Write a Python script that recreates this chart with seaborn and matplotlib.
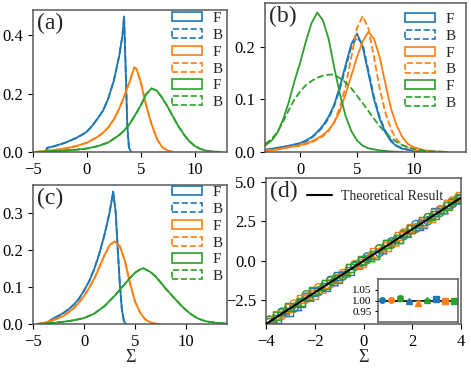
import numpy as np
import pandas as pd
import matplotlib
matplotlib.use("Agg")
import matplotlib.pyplot as plt
from matplotlib.patches import Patch
from matplotlib.lines import Line2D
import seaborn as sns

# ---- panel (a): distributions, (x, density)
a_blue_x = [-3.8, -3.7, -3.0, -2.5, -2.0, -1.5, -1.0, -0.5, 0.0, 0.5, 1.0, 1.5, 2.0, 2.5, 3.0, 3.3, 3.45, 3.6, 3.75, 3.9, 4.1]
a_blue_y = [0.0, 0.014, 0.02, 0.026, 0.032, 0.04, 0.048, 0.058, 0.07, 0.09, 0.115, 0.142, 0.185, 0.245, 0.33, 0.40, 0.465, 0.28, 0.09, 0.015, 0.0]
a_orange_x = [-4.9, -4.0, -3.0, -2.0, -1.0, 0.0, 1.0, 1.5, 2.0, 2.5, 3.0, 3.5, 4.0, 4.4, 4.6, 5.0, 5.5, 6.0, 6.5, 7.0, 7.5, 8.0]
a_orange_y = [0.0, 0.003, 0.007, 0.012, 0.02, 0.032, 0.052, 0.066, 0.085, 0.112, 0.148, 0.195, 0.245, 0.29, 0.285, 0.24, 0.16, 0.095, 0.045, 0.016, 0.005, 0.0]
a_green_x = [-4.8, -3.0, -2.0, -1.0, 0.0, 1.0, 2.0, 3.0, 3.5, 4.0, 4.5, 5.0, 5.5, 6.0, 6.5, 7.0, 7.5, 8.0, 8.5, 9.0, 9.5, 10.0, 10.5, 11.0, 11.5, 12.0, 12.5]
a_green_y = [0.0, 0.003, 0.005, 0.008, 0.012, 0.02, 0.033, 0.058, 0.075, 0.098, 0.128, 0.16, 0.198, 0.218, 0.21, 0.185, 0.155, 0.12, 0.088, 0.06, 0.037, 0.021, 0.011, 0.005, 0.002, 0.001, 0.0]

# ---- panel (b)
b_blue_F_x = [-3.1, -2.0, -1.0, 0.0, 0.5, 1.0, 1.5, 2.0, 2.5, 3.0, 3.5, 4.0, 4.5, 5.0, 5.5, 6.0, 6.5, 7.0, 7.5, 8.0, 8.5, 9.0, 10.0, 11.0]
b_blue_F_y = [0.004, 0.008, 0.012, 0.017, 0.022, 0.028, 0.038, 0.05, 0.067, 0.09, 0.125, 0.165, 0.205, 0.225, 0.2, 0.15, 0.1, 0.063, 0.037, 0.02, 0.011, 0.006, 0.002, 0.0]
b_blue_B_x = [-3.1, -2.0, -1.0, 0.0, 0.5, 1.0, 1.5, 2.0, 2.5, 3.0, 3.5, 4.0, 4.5, 5.0, 5.5, 6.0, 6.5, 7.0, 7.5, 8.0, 8.5, 9.0, 10.0, 11.0]
b_blue_B_y = [0.004, 0.007, 0.011, 0.016, 0.02, 0.027, 0.036, 0.048, 0.064, 0.088, 0.12, 0.16, 0.2, 0.218, 0.205, 0.155, 0.105, 0.066, 0.04, 0.022, 0.012, 0.007, 0.002, 0.0]
b_orange_F_x = [-3.1, -2.0, -1.0, 0.0, 1.0, 2.0, 2.5, 3.0, 3.5, 4.0, 4.5, 5.0, 5.5, 6.0, 6.5, 7.0, 7.5, 8.0, 8.5, 9.0, 9.5, 10.0, 11.0, 12.0, 13.0]
b_orange_F_y = [0.002, 0.005, 0.009, 0.013, 0.02, 0.032, 0.042, 0.056, 0.078, 0.11, 0.145, 0.18, 0.21, 0.228, 0.215, 0.18, 0.13, 0.082, 0.05, 0.028, 0.015, 0.009, 0.003, 0.001, 0.0]
b_orange_B_x = [-3.1, -2.0, -1.0, 0.0, 1.0, 2.0, 2.5, 3.0, 3.5, 4.0, 4.5, 5.0, 5.5, 6.0, 6.5, 7.0, 7.5, 8.0, 8.5, 9.0, 10.0, 11.0, 12.0]
b_orange_B_y = [0.003, 0.005, 0.009, 0.012, 0.018, 0.03, 0.04, 0.057, 0.085, 0.125, 0.18, 0.235, 0.258, 0.235, 0.18, 0.12, 0.075, 0.043, 0.024, 0.013, 0.004, 0.001, 0.0]
b_green_F_x = [-3.1, -2.5, -2.0, -1.5, -1.0, -0.5, 0.0, 0.5, 1.0, 1.5, 2.0, 2.5, 3.0, 3.5, 4.0, 4.5, 5.0, 5.5, 6.0, 7.0, 8.0, 9.0]
b_green_F_y = [0.012, 0.022, 0.037, 0.062, 0.095, 0.135, 0.17, 0.21, 0.245, 0.265, 0.25, 0.215, 0.16, 0.11, 0.068, 0.04, 0.022, 0.012, 0.007, 0.003, 0.001, 0.0]
b_green_B_x = [-3.1, -2.5, -2.0, -1.5, -1.0, -0.5, 0.0, 0.5, 1.0, 1.5, 2.0, 2.5, 3.0, 3.5, 4.0, 4.5, 5.0, 5.5, 6.0, 6.5, 7.0, 7.5, 8.0, 8.5, 9.0, 9.5, 10.0, 11.0, 12.0, 13.0]
b_green_B_y = [0.015, 0.025, 0.038, 0.058, 0.08, 0.1, 0.115, 0.127, 0.135, 0.141, 0.145, 0.147, 0.147, 0.14, 0.132, 0.121, 0.107, 0.093, 0.078, 0.063, 0.049, 0.037, 0.027, 0.019, 0.013, 0.009, 0.006, 0.002, 0.001, 0.0]

# ---- panel (c)
c_blue_x = [-3.6, -3.4, -3.0, -2.5, -2.0, -1.5, -1.0, -0.5, 0.0, 0.5, 1.0, 1.5, 2.0, 2.5, 2.85, 3.1, 3.3, 3.5, 3.7, 3.9, 4.1]
c_blue_y = [0.0, 0.008, 0.015, 0.022, 0.03, 0.04, 0.052, 0.068, 0.09, 0.115, 0.148, 0.19, 0.24, 0.3, 0.356, 0.3, 0.2, 0.11, 0.04, 0.008, 0.0]
c_orange_x = [-4.6, -4.0, -3.0, -2.5, -2.0, -1.5, -1.0, -0.5, 0.0, 0.5, 1.0, 1.5, 2.0, 2.5, 3.0, 3.5, 4.0, 4.5, 5.0, 5.5, 6.0, 6.5, 7.0, 7.5]
c_orange_y = [0.0, 0.003, 0.01, 0.016, 0.022, 0.032, 0.043, 0.058, 0.075, 0.097, 0.122, 0.153, 0.185, 0.212, 0.222, 0.21, 0.17, 0.11, 0.06, 0.03, 0.012, 0.004, 0.001, 0.0]
c_green_x = [-4.5, -3.0, -2.0, -1.0, 0.0, 1.0, 2.0, 3.0, 4.0, 4.5, 5.0, 5.5, 5.8, 6.5, 7.0, 7.5, 8.0, 8.5, 9.0, 9.5, 10.0, 10.5, 11.0, 11.5, 12.0, 13.0, 14.0]
c_green_y = [0.0, 0.003, 0.006, 0.01, 0.016, 0.028, 0.048, 0.076, 0.108, 0.124, 0.138, 0.147, 0.15, 0.14, 0.128, 0.112, 0.095, 0.08, 0.065, 0.05, 0.037, 0.026, 0.017, 0.011, 0.007, 0.003, 0.001]

# ---- panel (d): markers along the theoretical line
x_o = [-3.85, -3.35, -2.85, -2.35, -1.85, -1.35, -0.85, -0.35, 0.15, 0.65, 1.15, 1.65, 2.15, 2.65, 3.15, 3.65]
x_t = [-3.7, -3.2, -2.7, -2.2, -1.7, -1.2, -0.7, -0.2, 0.3, 0.8, 1.3, 1.8, 2.3, 2.8, 3.3, 3.8]
x_s = [-3.55, -3.05, -2.55, -2.05, -1.55, -1.05, -0.55, -0.05, 0.45, 0.95, 1.45, 1.95, 2.45, 2.95, 3.45, 3.95]
y_blue_o = [-3.90, -3.25, -3.00, -2.30, -1.95, -1.23, -0.93, -0.35, 0.25, 0.53, 1.21, 1.60, 2.30, 2.55, 3.20, 3.63]
y_orange_o = [-3.77, -3.45, -2.73, -2.41, -1.70, -1.45, -0.80, -0.23, 0.07, 0.75, 1.10, 1.77, 2.05, 2.73, 3.25, 3.80]
y_green_o = [-3.75, -3.30, -2.95, -2.15, -1.90, -1.27, -0.97, -0.29, 0.11, 0.77, 1.05, 1.70, 2.09, 2.75, 3.07, 3.70]
y_blue_t = [-3.80, -3.15, -2.90, -2.25, -1.60, -1.32, -0.66, -0.28, 0.36, 0.70, 1.42, 1.74, 2.18, 2.88, 3.25, 3.85]
y_orange_t = [-3.64, -3.28, -2.60, -2.05, -1.80, -1.15, -0.60, -0.26, 0.42, 0.82, 1.20, 1.94, 2.36, 2.68, 3.40, 4.00]
y_green_t = [-3.75, -3.08, -2.65, -2.30, -1.62, -1.05, -0.76, -0.10, 0.20, 0.86, 1.38, 1.76, 2.42, 2.82, 3.24, 3.90]
y_blue_s = [-3.70, -3.25, -2.65, -2.00, -1.67, -0.97, -0.65, -0.01, 0.37, 1.05, 1.39, 2.00, 2.35, 3.07, 3.60, 3.90]
y_orange_s = [-3.45, -2.99, -2.40, -2.13, -1.45, -1.10, -0.43, -0.15, 0.53, 0.91, 1.55, 2.10, 2.40, 3.01, 3.57, 4.10]
y_green_s = [-3.50, -2.95, -2.63, -1.93, -1.50, -1.15, -0.47, 0.05, 0.40, 1.07, 1.37, 2.01, 2.55, 2.89, 3.50, 3.95]
theory_x = [-4, 4]
theory_y = [-4, 4]

# inset: ratios with error bars
inset_x = [1, 2, 3, 4, 5, 6, 7, 8, 9]
inset_y = [1.004, 1.002, 1.010, 0.998, 0.988, 1.001, 1.009, 1.000, 0.999]
inset_err = [0.004, 0.004, 0.010, 0.005, 0.009, 0.004, 0.007, 0.005, 0.004]
inset_markers = ['o', 'o', 'o', '^', '^', '^', 's', 's', 's']

legend_labels = ['F', 'B', 'F', 'B', 'F', 'B']

C = sns.color_palette("tab10")
blue, orange, green = C[0], C[1], C[2]

sns.set_style("ticks")
plt.rcParams['font.family'] = ['Liberation Serif', 'DejaVu Serif']
plt.rcParams['mathtext.fontset'] = 'stix'
plt.rcParams['axes.edgecolor'] = '0.35'
plt.rcParams['axes.linewidth'] = 1.1
plt.rcParams['xtick.color'] = 'k'
plt.rcParams['ytick.color'] = 'k'
plt.rcParams['xtick.labelsize'] = 12
plt.rcParams['ytick.labelsize'] = 12

W, H = 471, 369
fig = plt.figure(figsize=(W / 100, H / 100), dpi=100)


def rect(l, t, r, b):
    return [l / W, 1 - b / H, (r - l) / W, (b - t) / H]


ax_a = fig.add_axes(rect(33, 10, 227, 152))
ax_b = fig.add_axes(rect(265, 3, 466, 152))
ax_c = fig.add_axes(rect(33, 185, 227, 324))
ax_d = fig.add_axes(rect(266, 178, 461, 324))


def curve(ax, x, y, c, ls='-'):
    sns.lineplot(x=x, y=y, ax=ax, color=c, linestyle=ls, lw=1.3,
                 estimator=None, sort=False)


def fb_legend(ax, anchor):
    handles = []
    for c in [blue, orange, green]:
        handles.append(Patch(facecolor='none', edgecolor=c, linestyle='-', lw=1.2))
        handles.append(Patch(facecolor='none', edgecolor=c, linestyle='--', lw=1.2))
    ax.legend(handles, legend_labels, loc='upper left', frameon=False,
              bbox_to_anchor=anchor,
              fontsize=11, labelspacing=0.25, handlelength=1.95, handleheight=0.55,
              borderaxespad=0.0, borderpad=0.0, handletextpad=0.7)


# (a)
for x, y, c in [(a_blue_x, a_blue_y, blue), (a_orange_x, a_orange_y, orange), (a_green_x, a_green_y, green)]:
    curve(ax_a, x, y, c, '-')
    curve(ax_a, x, y, c, '--')
ax_a.set_xlim(-5, 13)
ax_a.set_ylim(0, 0.487)
ax_a.set_xticks([-5, 0, 5, 10])
ax_a.set_yticks([0.0, 0.2, 0.4])

# (b)
for x, y, c, ls in [(b_blue_F_x, b_blue_F_y, blue, '-'), (b_blue_B_x, b_blue_B_y, blue, '--'),
                    (b_orange_F_x, b_orange_F_y, orange, '-'), (b_orange_B_x, b_orange_B_y, orange, '--'),
                    (b_green_F_x, b_green_F_y, green, '-'), (b_green_B_x, b_green_B_y, green, '--')]:
    curve(ax_b, x, y, c, ls)
ax_b.set_xlim(-3.1, 14.6)
ax_b.set_ylim(0, 0.283)
ax_b.set_xticks([0, 5, 10])
ax_b.set_yticks([0.0, 0.1, 0.2])

# (c)
for x, y, c in [(c_blue_x, c_blue_y, blue), (c_orange_x, c_orange_y, orange), (c_green_x, c_green_y, green)]:
    curve(ax_c, x, y, c, '-')
    curve(ax_c, x, y, c, '--')
ax_c.set_xlim(-5, 14)
ax_c.set_ylim(0, 0.374)
ax_c.set_xticks([-5, 0, 5, 10])
ax_c.set_yticks([0.0, 0.1, 0.2, 0.3])

for ax, anchor in [(ax_a, (0.716, 0.985)), (ax_b, (0.697, 0.933)), (ax_c, (0.716, 0.992))]:
    ax.set_ylabel('')
    ax.set_xlabel('')
    fb_legend(ax, anchor)

# (d)
series = [(x_o, y_blue_o, blue, 'o'), (x_o, y_orange_o, orange, 'o'), (x_o, y_green_o, green, 'o'),
          (x_t, y_blue_t, blue, '^'), (x_t, y_orange_t, orange, '^'), (x_t, y_green_t, green, '^'),
          (x_s, y_blue_s, blue, 's'), (x_s, y_orange_s, orange, 's'), (x_s, y_green_s, green, 's')]
for x, y, c, m in series:
    sns.scatterplot(x=x, y=y, ax=ax_d, marker=m, s=34, color=c,
                    facecolors='none', edgecolor=c, linewidth=1.0, zorder=2)
sns.lineplot(x=theory_x, y=theory_y, ax=ax_d, color='k', lw=1.5, zorder=3)
ax_d.set_xlim(-4, 4)
ax_d.set_ylim(-4, 5.25)
ax_d.set_xticks([-4, -2, 0, 2, 4])
ax_d.set_yticks([-2.5, 0.0, 2.5, 5.0])
ax_d.legend([Line2D([], [], color='k', lw=1.5)], ['Theoretical Result'],
            loc='upper left', bbox_to_anchor=(0.21, 0.92), frameon=False, fontsize=10,
            handlelength=1.8, borderaxespad=0.0, borderpad=0.0, handletextpad=0.65)

ax_c.set_xlabel('Σ', fontsize=13, labelpad=-0.5)
ax_d.set_xlabel('Σ', fontsize=13, labelpad=-0.5)

for ax, lab in [(ax_a, '(a)'), (ax_b, '(b)'), (ax_c, '(c)'), (ax_d, '(d)')]:
    ax.text(0.02, 0.98, lab, transform=ax.transAxes, fontsize=17,
            ha='left', va='top')

# inset in (d)
ax_in = fig.add_axes(rect(378, 279, 458, 322))
ax_in.axhline(1.0, color='k', lw=1.2, zorder=1)
for i in range(len(inset_x)):
    ax_in.errorbar(inset_x[i], inset_y[i], yerr=inset_err[i], fmt=inset_markers[i],
                   color=C[i % 3], ms=4, capsize=2.5, lw=1.0, zorder=2)
ax_in.set_xlim(0.5, 9.5)
ax_in.set_ylim(0.9, 1.1)
ax_in.set_xticks([])
ax_in.set_yticks([0.95, 1.00, 1.05])
ax_in.tick_params(labelsize=8, length=2.5, pad=2)
ax_in.set_yticklabels(['0.95', '1.00', '1.05'])

fig.savefig('out.png', dpi=100)
